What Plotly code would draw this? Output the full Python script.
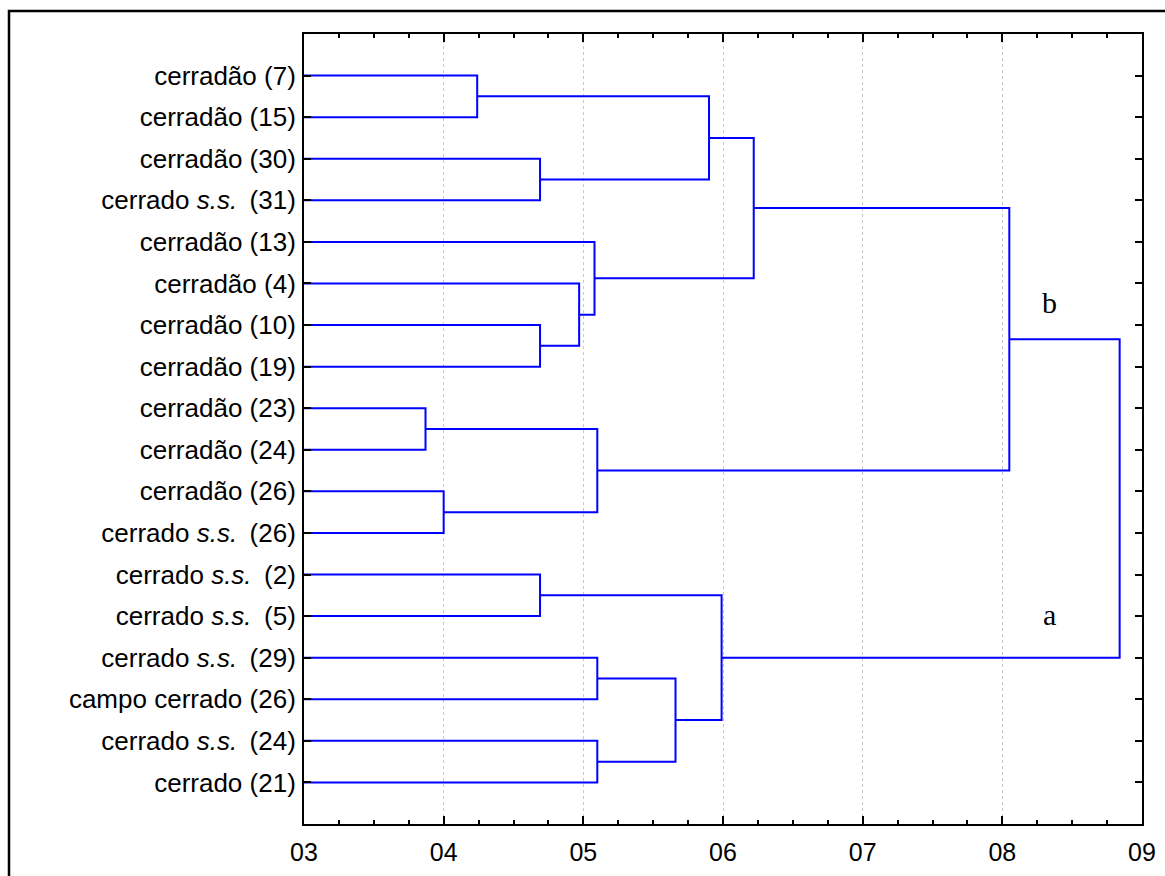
import plotly.graph_objects as go

# Leaves, listed from top to bottom of the dendrogram
leaf_labels = [
    "cerradão (7)",
    "cerradão (15)",
    "cerradão (30)",
    "cerrado <i>s.s.</i>\u2009 (31)",
    "cerradão (13)",
    "cerradão (4)",
    "cerradão (10)",
    "cerradão (19)",
    "cerradão (23)",
    "cerradão (24)",
    "cerradão (26)",
    "cerrado <i>s.s.</i>\u2009 (26)",
    "cerrado <i>s.s.</i>\u2009 (2)",
    "cerrado <i>s.s.</i>\u2009 (5)",
    "cerrado <i>s.s.</i>\u2009 (29)",
    "campo cerrado (26)",
    "cerrado <i>s.s.</i>\u2009 (24)",
    "cerrado (21)",
]

# Linkage steps: each joins two clusters (leaf index or earlier step id = 18 + k)
merge_left = [0, 2, 18, 6, 5, 4, 20, 8, 10, 25, 24, 12, 14, 16, 30, 29, 28]
merge_right = [1, 3, 19, 7, 21, 22, 23, 9, 11, 26, 27, 13, 15, 17, 31, 32, 33]
merge_height = [4.24, 4.69, 5.90, 4.69, 4.97, 5.08, 6.22, 3.87, 4.00, 5.10,
                 8.05, 4.69, 5.10, 5.10, 5.66, 5.99, 8.84]

# Distance axis
x_min, x_max = 3, 9
x_tickvals = [3, 4, 5, 6, 7, 8, 9]
x_ticktext = ["03", "04", "05", "06", "07", "08", "09"]

# Group labels
group_text = ["b", "a"]
group_x = [8.34, 8.34]
group_y = [6.45, 13.95]

n_leaves = len(leaf_labels)
leaf_pos = list(range(1, n_leaves + 1))

# Cluster positions (height on the distance axis, row on the leaf axis)
node_h = {i: x_min for i in range(n_leaves)}
node_y = {i: leaf_pos[i] for i in range(n_leaves)}

xs, ys = [], []
for k, (a, b, h) in enumerate(zip(merge_left, merge_right, merge_height)):
    nid = n_leaves + k
    ya, yb = node_y[a], node_y[b]
    xs += [node_h[a], h, h, node_h[b], None]
    ys += [ya, ya, yb, yb, None]
    node_h[nid] = h
    node_y[nid] = (ya + yb) / 2

fig = go.Figure()
fig.add_trace(go.Scatter(
    x=xs, y=ys, mode="lines",
    line=dict(color="#0000ff", width=2),
    hoverinfo="skip", showlegend=False,
))

W, H = 1165, 876
ml, mr, mt, mb = 304, 23, 34, 52
pw, ph = W - ml - mr, H - mt - mb


def px_to_paper_x(px):
    return (px - ml) / pw


def px_to_paper_y(py):
    return (H - mb - py) / ph


# Outer page frame
fig.add_shape(
    type="rect", xref="paper", yref="paper",
    x0=px_to_paper_x(9), x1=px_to_paper_x(W + 5),
    y0=px_to_paper_y(H + 5), y1=px_to_paper_y(11),
    line=dict(color="black", width=2.5), fillcolor="rgba(0,0,0,0)",
    layer="above",
)

for t, gx, gy in zip(group_text, group_x, group_y):
    fig.add_annotation(
        x=gx, y=gy, text=t, showarrow=False,
        font=dict(family="Liberation Serif", size=30, color="black"),
        xanchor="center", yanchor="middle",
    )

fig.update_xaxes(
    range=[x_min, x_max],
    tickmode="array", tickvals=x_tickvals, ticktext=x_ticktext,
    ticks="inside", ticklen=8, tickwidth=2, tickcolor="black",
    showline=True, linecolor="black", linewidth=2, mirror="ticks",
    showgrid=True, gridcolor="#c8c8c8", griddash="dot", gridwidth=1,
    zeroline=False,
    minor=dict(dtick=0.25, tick0=3, ticks="inside", ticklen=4,
               tickwidth=2, tickcolor="black", showgrid=False),
    tickfont=dict(family="Liberation Sans", size=25, color="black"),
    ticklabelstandoff=5,
)
fig.update_yaxes(
    range=[n_leaves + 1, 0],
    tickmode="array", tickvals=leaf_pos, ticktext=leaf_labels,
    ticks="inside", ticklen=7, tickwidth=2, tickcolor="black",
    showline=True, linecolor="black", linewidth=2, mirror="ticks",
    showgrid=False, zeroline=False,
    tickfont=dict(family="Liberation Sans", size=26, color="black"),
    ticklabelstandoff=1,
)
fig.update_layout(
    width=W, height=H,
    margin=dict(l=ml, r=mr, t=mt, b=mb, autoexpand=False),
    plot_bgcolor="white", paper_bgcolor="white",
    showlegend=False,
)

fig.write_html("out.html")
